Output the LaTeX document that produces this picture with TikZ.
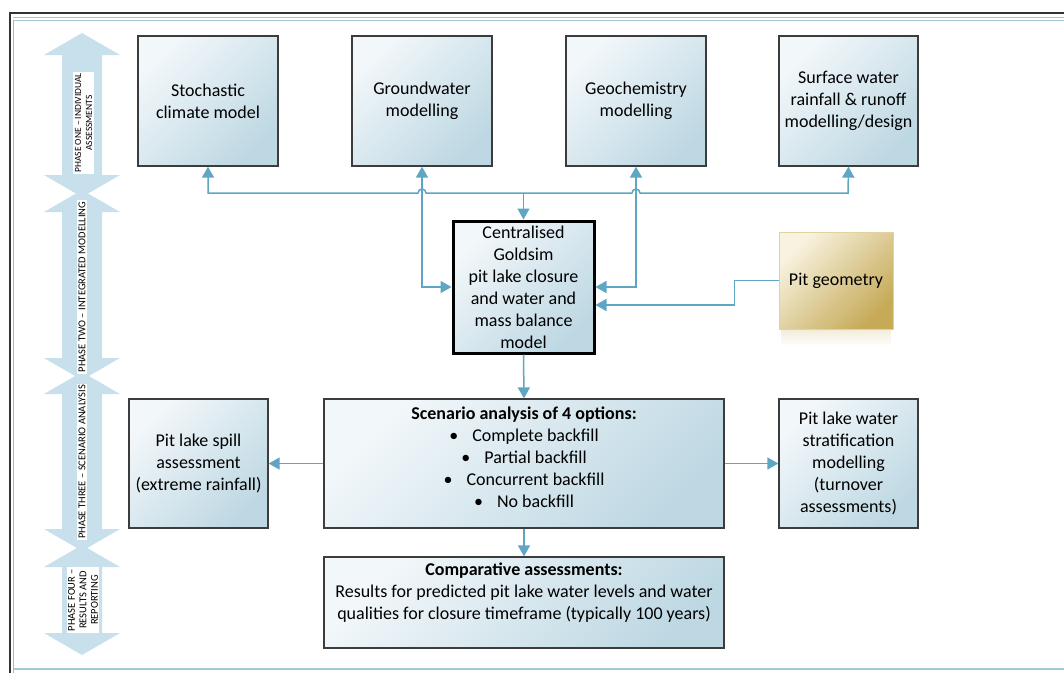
\documentclass[tikz,border=0pt]{standalone}
\usepackage{fontspec}
\setmainfont{Carlito}
\usetikzlibrary{arrows.meta}
\definecolor{conn}{RGB}{95,165,196}
\definecolor{boxA}{RGB}{242,247,250}
\definecolor{boxB}{RGB}{190,216,227}
\definecolor{boxline}{RGB}{60,60,60}
\definecolor{goldA}{RGB}{248,243,224}
\definecolor{goldB}{RGB}{198,170,88}
\definecolor{goldline}{RGB}{225,210,160}
\definecolor{phase}{RGB}{200,224,236}
\definecolor{framebl}{RGB}{160,200,218}
\newcommand{\mainfs}{\fontsize{18}{22}\selectfont}
\newcommand{\phasefs}{\fontsize{10.5}{11.5}\selectfont}
\newcommand{\phasefsS}{\fontsize{9.5}{11}\selectfont}
\newcommand{\phasearrow}[2]{%
  \fill[phase] (82,#1) -- (120,#1+22) -- (102,#1+22) -- (102,#2-22) -- (120,#2-22) -- (82,#2)
     -- (44,#2-22) -- (62,#2-22) -- (62,#1+22) -- (44,#1+22) -- cycle;}
\begin{document}
\begin{tikzpicture}[x=1pt,y=-1pt,
  box/.style={draw=boxline, line width=1.3pt, top color=boxA, bottom color=boxB, shading angle=45,
              align=center, inner sep=0pt, font=\mainfs},
  txt/.style={align=center, inner sep=0pt, font=\mainfs},
  tip/.tip={Triangle[length=11pt,width=12pt]},
  link/.style={draw=conn, line width=1.5pt, arrows={-tip}},
  linkboth/.style={draw=conn, line width=1.5pt, arrows={tip-tip}},
  phasetxt/.style={fill=white, rotate=90, align=center, inner sep=1.5pt, font=\phasefs}]
\useasboundingbox (0,0) rectangle (1064,673);
\fill[white] (0,0) rectangle (1064,673);
% frame
\draw[black!80, line width=1.3pt] (10,673) -- (10,13) -- (1064,13);
\draw[black!30, line width=0.6pt] (13.5,20) -- (13.5,673);
\draw[framebl, line width=1pt] (13,17) -- (1064,17);
\draw[framebl, line width=1pt] (13,20.5) -- (1064,20.5);
\draw[framebl, line width=1.5pt] (13,669) -- (1064,669);
% phase arrows
\phasearrow{33}{197}
\phasearrow{190}{380}
\phasearrow{372}{551}
\phasearrow{545}{655}
\node[phasetxt, font=\phasefsS] (p1) at (83.5,123) {PHASE ONE -- INDIVIDUAL\\ASSESSMENTS};
\node[phasetxt] (p2) at (82,287) {PHASE TWO -- INTEGRATED MODELLING};
\node[phasetxt] (p3) at (82,462) {PHASE THREE -- SCENARIO ANALYSIS};
\node[phasetxt] (p4) at (83,600) {PHASE FOUR --\\RESULTS AND\\REPORTING};
% boxes
\node[box, minimum width=140pt, minimum height=130pt] (stoch) at (208,101) {Stochastic\\climate model};
\node[box, minimum width=140pt, minimum height=130pt] (ground) at (422,101) {Groundwater\\modelling};
\node[box, minimum width=140pt, minimum height=130pt] (geo) at (636,101) {Geochemistry\\modelling};
\node[box, minimum width=139pt, minimum height=130pt] (surf) at (848.5,101) {Surface water\\rainfall \& runoff\\modelling/design};
\node[box, draw=black, line width=3pt, minimum width=141pt, minimum height=132pt] (central) at (523.5,287)
  {Centralised\\Goldsim\\pit lake closure\\and water and\\mass balance\\model};
\shade[top color=goldB!22, bottom color=white] (781,330) rectangle (891,346);
\node[draw=goldline, line width=1pt, top color=goldA, bottom color=goldB, shading angle=45,
      minimum width=114pt, minimum height=97pt, inner sep=0pt, font=\mainfs] (pitgeo) at (836,280.5) {Pit geometry};
\node[box, minimum width=400pt, minimum height=129pt] (scen) at (524,463.5) {};
\node[txt] (scentxt) at (524,457) {\textbf{Scenario analysis of 4 options:}\\
  \textbullet\hspace{14pt}Complete backfill\\
  \textbullet\hspace{14pt}Partial backfill\\
  \textbullet\hspace{14pt}Concurrent backfill\\
  \textbullet\hspace{14pt}No backfill};
\node[box, minimum width=400pt, minimum height=91pt] (comp) at (524,602.5) {};
\node[txt] (comptxt) at (524,592.5) {\textbf{Comparative assessments:}\\
  Results for predicted pit lake water levels and water\\
  qualities for closure timeframe (typically 100 years)};
\node[box, minimum width=139pt, minimum height=129pt] (spill) at (198.5,463.5) {Pit lake spill\\assessment\\(extreme rainfall)};
\node[box, minimum width=139pt, minimum height=129pt] (strat) at (848.5,463.5) {Pit lake water\\stratification\\modelling\\(turnover\\assessments)};
% connectors
\coordinate (busL) at (208,193);
\coordinate (busR) at (848,193);
\draw[linkboth] (stoch.south) -- (busL) -- ([xshift=-4pt]ground.south |- busL)
   arc[start angle=180, end angle=0, radius=4pt] -- ([xshift=-4pt]geo.south |- busL)
   arc[start angle=180, end angle=0, radius=4pt] -- (busR) -- (surf.south);
\draw[link] (central.north |- busL) -- (central.north);
\draw[linkboth] (central.west) -| (ground.south);
\draw[linkboth] (central.east) -| (geo.south);
\draw[link] (pitgeo.west) -- ++(-44,0) |- ([yshift=-18pt]central.east);
\draw[link] (central.south) -- (scen.north);
\draw[link] (scen.west) -- (spill.east);
\draw[link] (scen.east) -- (strat.west);
\draw[link] (scen.south) -- (comp.north);
\end{tikzpicture}
\end{document}
